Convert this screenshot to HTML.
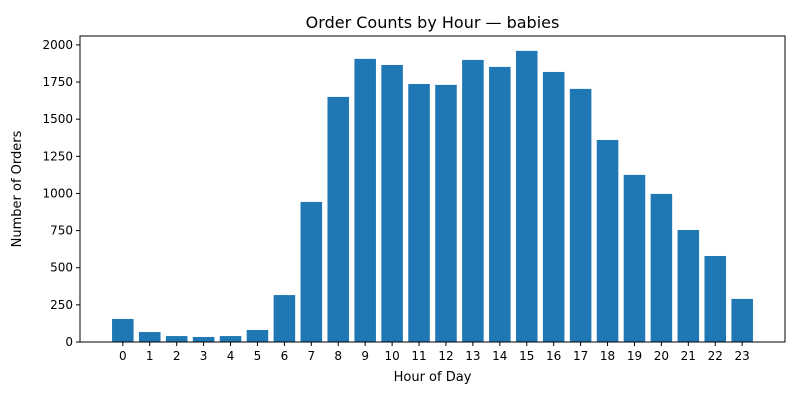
<!DOCTYPE html>
<html><head><meta charset="utf-8"><style>
body{margin:0;background:#fff;font-family:"Liberation Sans","DejaVu Sans",sans-serif;}
svg text{font-family:"DejaVu Sans","Liberation Sans",sans-serif;}
</style></head><body>
<svg id="chart" width="800" height="400" xmlns="http://www.w3.org/2000/svg"></svg>
<script>
const hours = [0,1,2,3,4,5,6,7,8,9,10,11,12,13,14,15,16,17,18,19,20,21,22,23];
const orderCounts = [155,67,40,34,40,81,316,943,1650,1906,1865,1737,1731,1899,1852,1960,1818,1704,1360,1125,997,754,579,290];
const yTicks = [0,250,500,750,1000,1250,1500,1750,2000];

const L=80,R=785,T=36,B=342;
const xMin=-1.59,xMax=24.59,yMax=2060;
const xs=v=>L+(v-xMin)/(xMax-xMin)*(R-L);
const ys=v=>B-v/yMax*(B-T);
const NS="http://www.w3.org/2000/svg";
const svg=document.getElementById('chart');
function mk(tag,attrs,parent){const e=document.createElementNS(NS,tag);for(const k in attrs)e.setAttribute(k,attrs[k]);(parent||svg).appendChild(e);return e;}

const bars=mk('g',{});


const bw=0.8*(xs(1)-xs(0));
hours.forEach((h,i)=>{
  const r=mk('rect',{x:xs(h)-bw/2,y:ys(orderCounts[i]),width:bw,height:B-ys(orderCounts[i]),fill:'#1f77b4'},bars);
  
  
});

const frame=mk('rect',{x:L,y:T,width:R-L,height:B-T,fill:'none',stroke:'#000','stroke-width':1});



const xAxis=mk('g',{});


hours.forEach(h=>{
  mk('line',{x1:xs(h),x2:xs(h),y1:B,y2:B+4,stroke:'#000'},xAxis);
  const t=mk('text',{x:xs(h),y:B+18,'font-size':12,'text-anchor':'middle'},xAxis);
  t.textContent=h;
  
  
});
const yAxis=mk('g',{});


yTicks.forEach(v=>{
  mk('line',{x1:L-4,x2:L,y1:ys(v),y2:ys(v),stroke:'#000'},yAxis);
  const t=mk('text',{x:L-7,y:ys(v)+4,'font-size':12,'text-anchor':'end'},yAxis);
  t.textContent=v;
  
  
});
const xt=mk('text',{x:(L+R)/2,y:381,'font-size':13,'text-anchor':'middle'});
xt.textContent='Hour of Day';


const yt=mk('text',{x:21,y:(T+B)/2,'font-size':13,'text-anchor':'middle',transform:'rotate(-90 21 '+((T+B)/2)+')'});
yt.textContent='Number of Orders';


const tt=mk('text',{x:(L+R)/2,y:28,'font-size':16,'text-anchor':'middle'});
tt.textContent='Order Counts by Hour — babies';


</script>
</body></html>
